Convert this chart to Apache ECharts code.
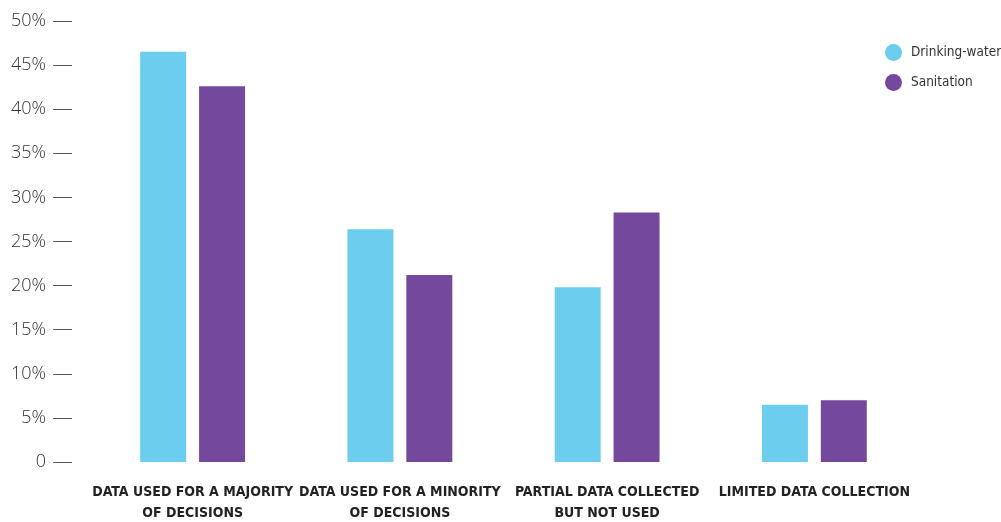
<!DOCTYPE html>
<html><head><meta charset="utf-8">
<script src="https://cdn.jsdelivr.net/npm/echarts@6/dist/echarts.min.js"></script>
<style>html,body{margin:0;padding:0;background:#fff}#c{width:1001px;height:522px}</style>
</head><body><div id="c"></div>
<script>
const categories = ["DATA USED FOR A MAJORITY\nOF DECISIONS","DATA USED FOR A MINORITY\nOF DECISIONS","PARTIAL DATA COLLECTED\nBUT NOT USED","LIMITED DATA COLLECTION"];
const drinkingWater = [46.5, 26.4, 19.8, 6.5];
const sanitation = [42.6, 21.2, 28.3, 7.0];
const yTicks = [0,5,10,15,20,25,30,35,40,45,50];
const chart = echarts.init(document.getElementById('c'));
chart.setOption({
  animation:false,
  grid:{left:89,right:83,top:21,bottom:60,containLabel:false,outerBoundsMode:'none'},
  legend:{orient:'vertical',left:885,top:44,padding:0,icon:'circle',itemWidth:17,itemHeight:17,itemGap:13,
    textStyle:{fontFamily:'DejaVu Sans Condensed',fontSize:13.5,color:'#333',padding:[0,0,0,4]}},
  xAxis:{type:'category',data:categories,axisLine:{show:false},axisTick:{show:false},
    axisLabel:{interval:0,margin:20,fontFamily:'DejaVu Sans Condensed',fontWeight:'bold',fontSize:14,color:'#222',lineHeight:21,verticalAlign:'top'}},
  yAxis:{type:'value',min:0,max:50,interval:5,offset:17,splitLine:{show:false},axisLine:{show:false},
    axisTick:{show:true,length:19,lineStyle:{color:'#555',width:1}},
    axisLabel:{margin:26,fontFamily:'Open Sans',fontWeight:300,fontSize:18,color:'#333',
      formatter:v=>v===0?'0':v+'%'}},
  series:[
    {name:'Drinking-water',type:'bar',data:drinkingWater,barWidth:46,barGap:'28%',itemStyle:{color:'#6DCDEF'}},
    {name:'Sanitation',type:'bar',data:sanitation,barWidth:46,itemStyle:{color:'#74489C'}}
  ]
});
</script></body></html>
